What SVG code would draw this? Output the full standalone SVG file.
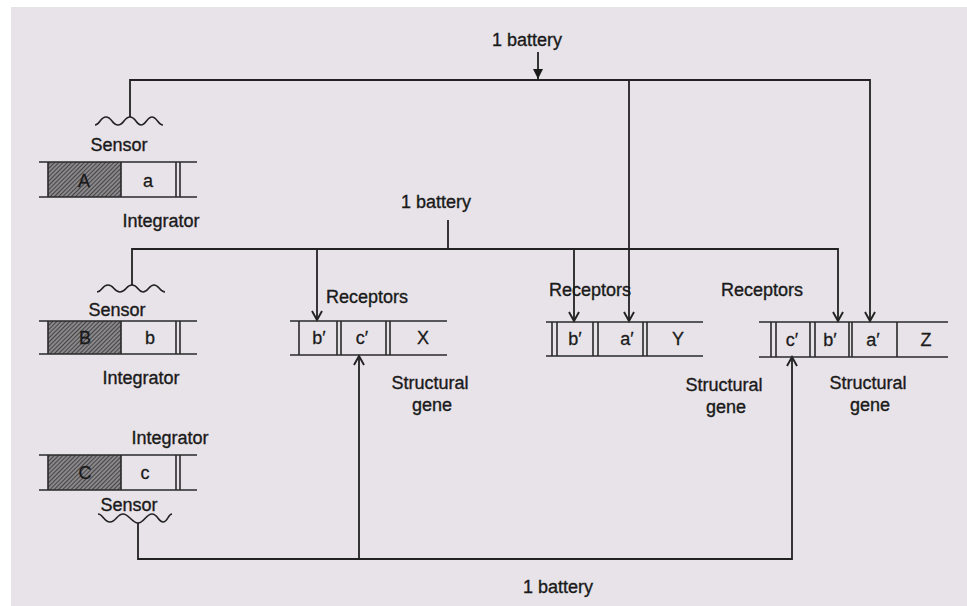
<svg xmlns="http://www.w3.org/2000/svg" width="967" height="606" viewBox="0 0 967 606">
<style>
.t{font-family:"Liberation Sans",Arial,sans-serif;font-size:18px;fill:#1a1a1a;stroke:#1a1a1a;stroke-width:0.35;text-anchor:middle}
.b{font-family:"Liberation Sans",Arial,sans-serif;font-size:18px;fill:#1a1a1a;stroke:#1a1a1a;stroke-width:0.3;text-anchor:middle}
.ln{fill:none;stroke:#222;stroke-width:1.8}
.bx{fill:none;stroke:#2a2a2a;stroke-width:1.6}
.w{fill:none;stroke:#222;stroke-width:1.6}
.arr{marker-end:url(#v)}
</style>
<defs>
<pattern id="hatch" width="3" height="3" patternUnits="userSpaceOnUse" patternTransform="rotate(45)">
<rect width="3" height="3" fill="#8a878b"/>
<line x1="0" y1="0" x2="0" y2="3" stroke="#262626" stroke-width="1.4"/>
</pattern>
<marker id="v" viewBox="-11 -7 13 14" markerWidth="13" markerHeight="14" refX="0" refY="0" orient="auto" markerUnits="userSpaceOnUse">
<path d="M-9,-5 L0,0 L-9,5" fill="none" stroke="#222" stroke-width="1.9"/>
</marker>
<marker id="tri" viewBox="-11 -6 12 12" markerWidth="12" markerHeight="12" refX="0" refY="0" orient="auto" markerUnits="userSpaceOnUse">
<path d="M-10,-5 L0,0 L-10,5 Z" fill="#1a1a1a"/>
</marker>
</defs>
<rect width="967" height="606" fill="#ffffff"/>
<rect x="11" y="7" width="956" height="599" fill="#e7e3e8"/>

<g id="connectors">
<path class="ln" d="M538,52 V79" marker-end="url(#tri)"/>
<path class="ln arr" d="M130,117 V80 H870 V321"/>
<path class="ln arr" d="M629,80 V321"/>
<path class="ln" d="M448,220 V249"/>
<path class="ln arr" d="M132,285 V249 H838 V321"/>
<path class="ln arr" d="M317,249 V320"/>
<path class="ln arr" d="M574,249 V321"/>
<path class="ln arr" d="M138,523 V559 H792 V357"/>
<path class="ln arr" d="M359,559 V356"/>
</g>

<g id="battery-top"><text class="t" x="527" y="46">1 battery</text></g>
<g id="battery-mid"><text class="t" x="436" y="208">1 battery</text></g>
<g id="battery-bottom"><text class="t" x="558" y="593">1 battery</text></g>

<g id="producer-A">
<path class="w" d="M95,125 C100,125 100,117 106,117 S112,125 118,125 S124,117 130,117 S136,125 141,125 S147,117 152,117 S158,125 163,125"/>
<text class="t" x="119" y="151">Sensor</text>
<rect x="48" y="162" width="73" height="35" fill="url(#hatch)"/>
<path class="bx" d="M39,162 H197 M39,197 H197 M48,162 V197 M121,162 V197 M176,162 V197 M180,162 V197"/>
<text class="b" x="84" y="187">A</text>
<text class="b" x="148" y="187">a</text>
<text class="t" x="161" y="227">Integrator</text>
</g>

<g id="producer-B">
<path class="w" d="M97,292 C102,292 102,285 108,285 S114,292 120,292 S126,285 132,285 S138,292 143,292 S149,285 154,285 S160,292 165,292"/>
<text class="t" x="117" y="316">Sensor</text>
<rect x="48" y="321" width="73" height="33" fill="url(#hatch)"/>
<path class="bx" d="M39,321 H197 M39,354 H197 M48,321 V354 M121,321 V354 M176,321 V354 M180,321 V354"/>
<text class="b" x="85" y="344">B</text>
<text class="b" x="150" y="344">b</text>
<text class="t" x="141" y="384">Integrator</text>
</g>

<g id="producer-C">
<text class="t" x="170" y="444">Integrator</text>
<rect x="48" y="455" width="73" height="35" fill="url(#hatch)"/>
<path class="bx" d="M39,455 H197 M39,490 H197 M48,455 V490 M121,455 V490 M176,455 V490 M180,455 V490"/>
<text class="b" x="85" y="479">C</text>
<text class="b" x="145" y="479">c</text>
<text class="t" x="129" y="511">Sensor</text>
<path class="w" d="M98,514 C103,514 104,522 110,522 S117,514 123,514 S132,523 138,523 S146,514 152,514 S158,522 163,522 S168,514 172,514"/>
</g>

<g id="gene-X">
<text class="t" x="367" y="303">Receptors</text>
<path class="bx" d="M290,321 H447 M290,355 H447 M299,321 V355 M337,321 V355 M341,321 V355 M386,321 V355 M390,321 V355"/>
<text class="b" x="319" y="344">b′</text>
<text class="b" x="362" y="344">c′</text>
<text class="b" x="423" y="344">X</text>
<text class="t" x="430" y="389">Structural</text>
<text class="t" x="432" y="411">gene</text>
</g>

<g id="gene-Y">
<text class="t" x="590" y="296">Receptors</text>
<path class="bx" d="M546,322 H703 M546,356 H703 M552,322 V356 M557,322 V356 M593,322 V356 M598,322 V356 M643,322 V356 M647,322 V356"/>
<text class="b" x="575" y="345">b′</text>
<text class="b" x="627" y="345">a′</text>
<text class="b" x="678" y="345">Y</text>
<text class="t" x="724" y="391">Structural</text>
<text class="t" x="726" y="413">gene</text>
</g>

<g id="gene-Z">
<text class="t" x="762" y="296">Receptors</text>
<path class="bx" d="M759,322 H948 M759,357 H948 M771,322 V357 M776,322 V357 M810,322 V357 M815,322 V357 M849,322 V357 M852,322 V357 M897,322 V357"/>
<text class="b" x="792" y="346">c′</text>
<text class="b" x="830" y="346">b′</text>
<text class="b" x="873" y="346">a′</text>
<text class="b" x="926" y="346">Z</text>
<text class="t" x="868" y="389">Structural</text>
<text class="t" x="870" y="411">gene</text>
</g>
</svg>
